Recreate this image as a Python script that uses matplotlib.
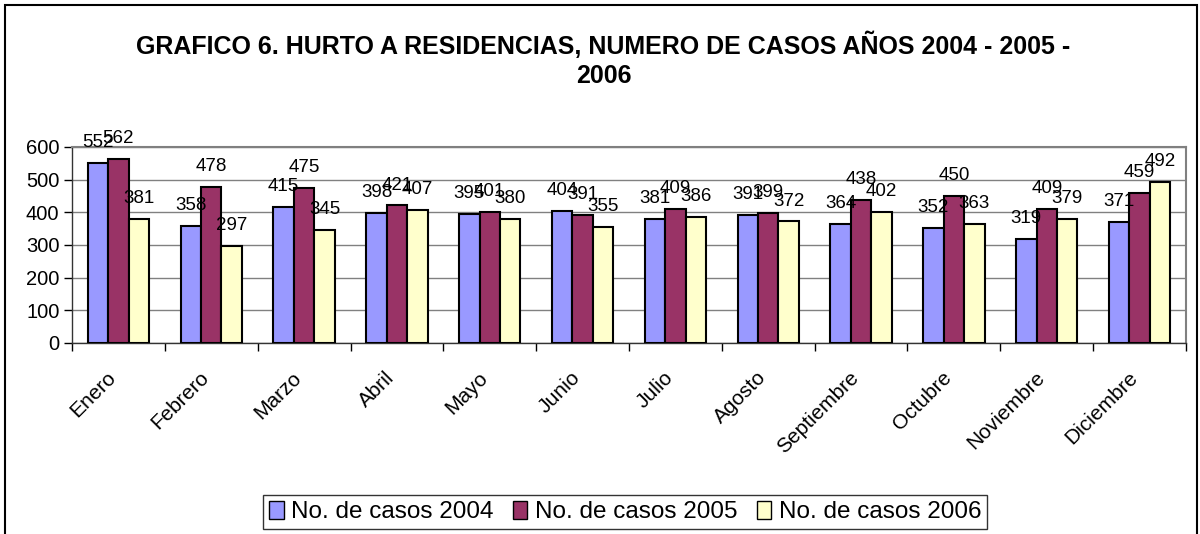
import numpy as np
import matplotlib.pyplot as plt
import matplotlib.transforms as mtransforms
from matplotlib.patches import Rectangle

plt.rcParams['font.family'] = ['Liberation Sans', 'DejaVu Sans']

meses = ["Enero", "Febrero", "Marzo", "Abril", "Mayo", "Junio", "Julio",
         "Agosto", "Septiembre", "Octubre", "Noviembre", "Diciembre"]
casos_2004 = [552, 358, 415, 398, 395, 404, 381, 391, 364, 352, 319, 371]
casos_2005 = [562, 478, 475, 421, 401, 391, 409, 399, 438, 450, 409, 459]
casos_2006 = [381, 297, 345, 407, 380, 355, 386, 372, 402, 363, 379, 492]
series = [("No. de casos 2004", casos_2004, "#9999FF"),
          ("No. de casos 2005", casos_2005, "#993366"),
          ("No. de casos 2006", casos_2006, "#FFFFCC")]

fig = plt.figure(figsize=(12, 5.34), dpi=100)
ax = fig.add_axes([72/1200, 1 - 343/534, 1114/1200, 196/534])

x = np.arange(len(meses))
w = 0.22
for i, (nombre, vals, color) in enumerate(series):
    pos = x + (i - 1) * w
    ax.bar(pos, vals, w, color=color, edgecolor="black", linewidth=1.5,
           label=nombre, zorder=3)
    for px, v in zip(pos, vals):
        ax.annotate(str(v), (px, v), xytext=(0, 11.5), textcoords="offset points",
                    ha="center", va="baseline", fontsize=13.5, zorder=4)

ax.set_xlim(-0.5, len(meses) - 0.5)
ax.set_ylim(0, 600)
ax.set_yticks(range(0, 601, 100))
ax.yaxis.grid(True, color="#808080", linewidth=1, zorder=0)
ax.tick_params(axis="y", labelsize=14.5, length=6, width=1, direction="out", pad=3)

ax.set_xticks(np.arange(len(meses) + 1) - 0.5)
ax.set_xticklabels([])
ax.set_xticks(x, minor=True)
ax.set_xticklabels(meses, minor=True, rotation=45, ha="right",
                   rotation_mode="anchor", fontsize=15)
ax.tick_params(axis="x", which="major", length=6, width=1, direction="out")
ax.tick_params(axis="x", which="minor", length=0, pad=18)
shift = mtransforms.ScaledTranslation(-12/100, 0, fig.dpi_scale_trans)
for lbl in ax.get_xticklabels(minor=True):
    lbl.set_transform(lbl.get_transform() + shift)

for s in ["top", "right"]:
    ax.spines[s].set_color("#808080")
    ax.spines[s].set_linewidth(1.5)
for s in ["left", "bottom"]:
    ax.spines[s].set_color("#333333")
    ax.spines[s].set_linewidth(1)

fig.text(0.503, 1 - 45/534, "GRAFICO 6. HURTO A RESIDENCIAS, NUMERO DE CASOS AÑOS 2004 - 2005 -",
         ha="center", va="center", fontsize=18, fontweight="bold")
fig.text(0.503, 1 - 76/534, "2006", ha="center", va="center",
         fontsize=18, fontweight="bold")

leg = fig.legend(loc="center", bbox_to_anchor=(625/1200, 1 - 512/534),
                 ncol=3, fontsize=17.5, frameon=True, fancybox=False,
                 edgecolor="black", handlelength=0.6, handleheight=0.8,
                 handletextpad=0.3, columnspacing=0.8, borderpad=0.25)
leg.get_frame().set_linewidth(1)
for h in leg.legend_handles:
    h.set_linewidth(1)

fig.patches.append(Rectangle((5/1200, -0.05), 1192/1200, 1 - 5/534 + 0.05,
                             transform=fig.transFigure, fill=False,
                             edgecolor="black", linewidth=1.5))

fig.savefig("out.png", dpi=100)
